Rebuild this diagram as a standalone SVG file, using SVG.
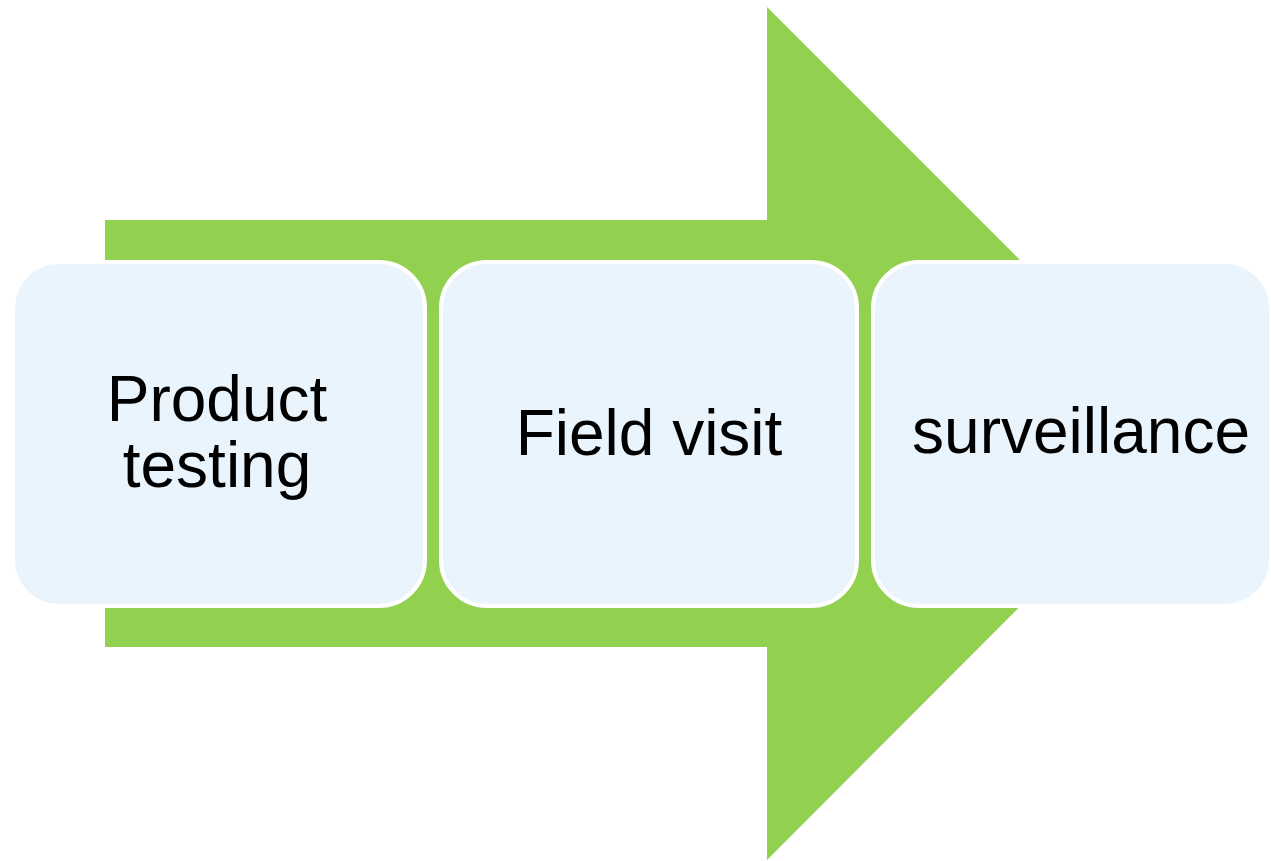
<svg xmlns="http://www.w3.org/2000/svg" width="1271" height="861" viewBox="0 0 1271 861">
<style>
.box{fill:#EAF4FD;stroke:#FFFFFF;stroke-width:4}
.lbl{font-family:"Liberation Sans",Arial,sans-serif;font-size:64px;fill:#000000;text-anchor:middle}
</style>
<rect width="1271" height="861" fill="#FFFFFF"/>
<g id="arrow">
<path d="M105 220 H767 V7 L1193 433 L767 860 V647 H105 Z" fill="#92D050"/>
</g>
<g id="node1">
<rect class="box" x="13" y="262" width="412" height="344" rx="46" ry="46"/>
<text class="lbl" x="217" y="421">Product</text>
<text class="lbl" x="217" y="487">testing</text>
</g>
<g id="node2">
<rect class="box" x="441" y="262" width="416" height="344" rx="46" ry="46"/>
<text class="lbl" x="649" y="455">Field visit</text>
</g>
<g id="node3">
<rect class="box" x="873" y="262" width="398" height="344" rx="46" ry="46"/>
<text class="lbl" x="1081" y="453">surveillance</text>
</g>
<g id="connectors"></g>
</svg>
